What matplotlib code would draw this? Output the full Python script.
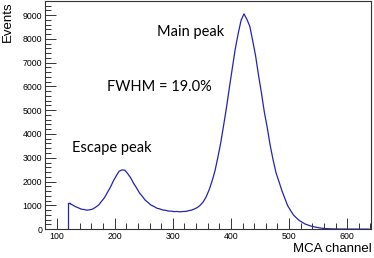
import numpy as np
import matplotlib
matplotlib.use("Agg")
import matplotlib.pyplot as plt
from matplotlib.ticker import MultipleLocator

# MCA spectrum, 5-channel bins starting at channel 120
bin_start = 120
bin_width = 5
counts = [
    1080, 1015, 945, 895, 840, 822, 795, 815, 845, 925,        # 120-165
    1015, 1170, 1320, 1540, 1750, 2010, 2230, 2430, 2490, 2475,  # 170-215
    2330, 2160, 1930, 1740, 1530, 1380, 1220, 1120, 1010, 955,  # 220-265
    880, 850, 805, 790, 760, 755, 735, 742, 725, 740,          # 270-315
    745, 775, 800, 850, 910, 1010, 1150, 1360, 1650, 2010,     # 320-365
    2440, 3010, 3630, 4370, 5130, 5970, 6780, 7580, 8220, 8780,  # 370-415
    9050, 8820, 8530, 7920, 7280, 6470, 5730, 4920, 4270, 3530,  # 420-465
    2920, 2380, 2010, 1630, 1310, 990, 790, 595, 475, 365,     # 470-515
    290, 215, 172, 128, 100, 74, 51, 35, 24, 16,               # 520-565
    11, 8, 6, 4, 3, 3, 2, 2, 1, 1,                             # 570-615
    1, 1, 0, 0,                                                # 620-635
]
centers = bin_start + bin_width * (np.arange(len(counts)) + 0.5)

fig = plt.figure(figsize=(3.74, 2.58), dpi=100)
ax = fig.add_axes([0.120, 0.112, 0.872, 0.884])

blue = "#2323b4"
ax.plot(centers, counts, color=blue, lw=0.9)
# threshold edge of the spectrum
ax.vlines(bin_start, 0, counts[0], color=blue, lw=0.9)
ax.plot([bin_start, centers[0]], [counts[0], counts[0]], color=blue, lw=0.9)

ax.set_xlim(80, 641)
ax.set_ylim(0, 9590)

ax.xaxis.set_major_locator(MultipleLocator(100))
ax.xaxis.set_minor_locator(MultipleLocator(20))
ax.yaxis.set_major_locator(MultipleLocator(1000))
ax.yaxis.set_minor_locator(MultipleLocator(200))
ax.tick_params(which="both", direction="in", top=False, right=False,
               labelsize=6.3, width=0.7, colors="#333333", labelcolor="black")
ax.tick_params(which="major", length=8, pad=2)
ax.tick_params(which="minor", length=4)
for lab in ax.get_yticklabels():
    lab.set_family("Liberation Sans")
for s in ax.spines.values():
    s.set_linewidth(0.8)
    s.set_color("#333333")

ax.set_xticks([100, 200, 300, 400, 500, 600])
ax.set_xticklabels(["100", "200", "300", "400", "500", "600"], family="Liberation Sans", fontsize=6.3)

fig.text(0.995, 0.035, "MCA channel", ha="right", va="center", fontsize=9.5, family="Liberation Sans")
fig.text(0.005, 0.995, "Events", ha="left", va="top", rotation=90, fontsize=9.5, family="Liberation Sans")

txt = dict(transform=ax.transAxes, fontsize=10.5, family="Lato", ha="left", va="center")
ax.text(0.344, 0.864, "Main peak", **txt)
ax.text(0.190, 0.623, "FWHM = 19.0%", **txt)
ax.text(0.083, 0.355, "Escape peak", **txt)

fig.savefig("out.png", dpi=100)
